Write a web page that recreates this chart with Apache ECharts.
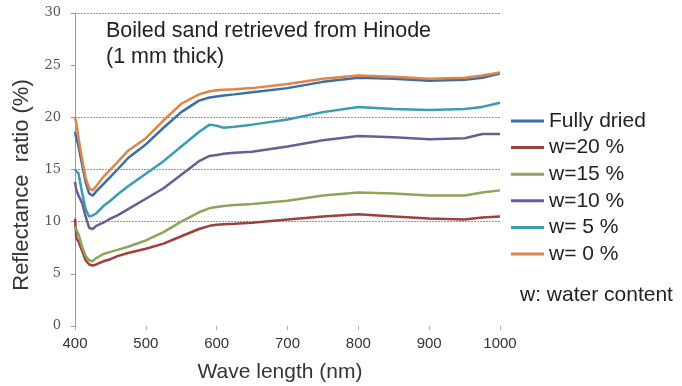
<!DOCTYPE html>
<html>
<head>
<meta charset="utf-8">
<script src="https://cdn.jsdelivr.net/npm/echarts@6/dist/echarts.min.js"></script>
<style>
  html, body { margin: 0; padding: 0; background: #fff; }
  #chart { width: 682px; height: 386px; }
</style>
</head>
<body>
<div id="chart"></div>
<script>
// wavelength (nm)
var waveLength = [400, 402, 405, 410, 415, 420, 425, 430, 440, 450, 460, 475, 500, 525, 550, 575, 590, 600, 610, 625, 650, 700, 750, 800, 850, 900, 950, 975, 1000];

// reflectance ratio (%)
var fullyDried = [18.6, 18.0, 17.2, 15.5, 13.8, 12.7, 12.5, 12.9, 13.6, 14.3, 15.0, 16.1, 17.4, 19.0, 20.5, 21.6, 21.9, 22.0, 22.1, 22.2, 22.4, 22.8, 23.4, 23.8, 23.7, 23.5, 23.6, 23.8, 24.2];
var w20 = [10.3, 8.4, 8.1, 7.2, 6.3, 5.9, 5.8, 5.9, 6.2, 6.4, 6.7, 7.0, 7.4, 7.9, 8.6, 9.3, 9.6, 9.7, 9.75, 9.8, 9.9, 10.2, 10.5, 10.7, 10.5, 10.3, 10.2, 10.4, 10.5];
var w15 = [9.5, 9.4, 8.8, 7.6, 6.7, 6.3, 6.2, 6.5, 6.9, 7.1, 7.3, 7.6, 8.2, 9.0, 10.0, 10.9, 11.3, 11.4, 11.5, 11.6, 11.7, 12.0, 12.5, 12.8, 12.7, 12.5, 12.5, 12.8, 13.0];
var w10 = [13.8, 13.0, 12.5, 11.8, 10.5, 9.4, 9.3, 9.6, 9.9, 10.3, 10.6, 11.2, 12.2, 13.2, 14.5, 15.8, 16.3, 16.4, 16.5, 16.6, 16.7, 17.2, 17.8, 18.2, 18.1, 17.9, 18.0, 18.4, 18.4];
var w5 = [15.0, 15.0, 14.6, 12.8, 11.2, 10.5, 10.6, 10.8, 11.5, 12.0, 12.6, 13.4, 14.6, 15.8, 17.2, 18.6, 19.3, 19.2, 19.0, 19.1, 19.3, 19.8, 20.5, 21.0, 20.8, 20.7, 20.8, 21.0, 21.4];
var w0 = [20.0, 19.4, 18.0, 16.0, 14.2, 13.2, 13.0, 13.4, 14.3, 15.0, 15.7, 16.8, 18.0, 19.7, 21.3, 22.2, 22.5, 22.6, 22.65, 22.7, 22.8, 23.2, 23.7, 24.0, 23.9, 23.7, 23.8, 24.0, 24.3];

var seriesNames = ["Fully dried", "w=20 %", "w=15 %", "w=10 %", "w= 5 %", "w= 0 %"];
var seriesValues = [fullyDried, w20, w15, w10, w5, w0];
var colors = ["#3a6ea5", "#a0403d", "#8ba65a", "#6f5a96", "#3a9cb3", "#e08447"];

function pairs(vals) {
  return waveLength.map(function (x, i) { return [x, vals[i]]; });
}

var chart = echarts.init(document.getElementById("chart"));
var sans = "Liberation Sans, Arial, sans-serif";
var grid = "#999";
var none = "rgba(0,0,0,0)";

chart.setOption({
  animation: false,
  color: colors,
  grid: { left: 75, right: 182, top: 13, bottom: 60 },
  xAxis: {
    type: "value",
    min: 400,
    max: 1000,
    interval: 100,
    axisLine: { show: false },
    axisTick: { show: true, length: 4, lineStyle: { color: "#aaa" } },
    axisLabel: {
      fontFamily: sans, fontSize: 15, color: "#333", margin: 10,
      formatter: function (v) { return String(v); }
    },
    splitLine: { show: false }
  },
  yAxis: {
    type: "value",
    min: 0,
    max: 30,
    interval: 5,
    axisLine: { show: true, lineStyle: { color: "#999" } },
    axisTick: { show: true, length: 4, lineStyle: { color: "#999" } },
    axisLabel: { fontFamily: "DejaVu Serif, serif", fontSize: 13, color: "#555", margin: 14 },
    splitLine: {
      show: true,
      // gridlines only at 10, 15, 20, 30
      lineStyle: { type: [2, 1], width: 1, color: [none, none, grid, grid, grid, none, grid] }
    }
  },
  legend: {
    orient: "vertical",
    left: 506,
    top: 104,
    itemWidth: 33,
    itemHeight: 3,
    itemGap: 2.6,
    icon: "rect",
    textStyle: { fontFamily: sans, fontSize: 21, color: "#222", lineHeight: 24 },
    data: seriesNames
  },
  graphic: [
    {
      type: "text", left: 106, top: 20,
      style: { text: "Boiled sand retrieved from Hinode", font: "21.5px " + sans, fill: "#222" }
    },
    {
      type: "text", left: 106, top: 46,
      style: { text: "(1 mm thick)", font: "21.5px " + sans, fill: "#222" }
    },
    {
      type: "text", left: 520, top: 285,
      style: { text: "w: water content", font: "21px " + sans, fill: "#222" }
    },
    {
      // x axis title
      type: "text", x: 280, y: 372,
      style: { text: "Wave length (nm)", font: "21px " + sans, fill: "#333", align: "center", verticalAlign: "middle" }
    },
    {
      // y axis title
      type: "text", x: 22, y: 185, rotation: Math.PI / 2,
      style: { text: "Reflectance  ratio (%)", font: "22px " + sans, fill: "#333", align: "center", verticalAlign: "middle" }
    }
  ],
  series: seriesNames.map(function (name, i) {
    return {
      name: name,
      type: "line",
      showSymbol: false,
      data: pairs(seriesValues[i]),
      lineStyle: { width: 2.5, color: colors[i] },
      itemStyle: { color: colors[i] }
    };
  })
});
</script>
</body>
</html>
